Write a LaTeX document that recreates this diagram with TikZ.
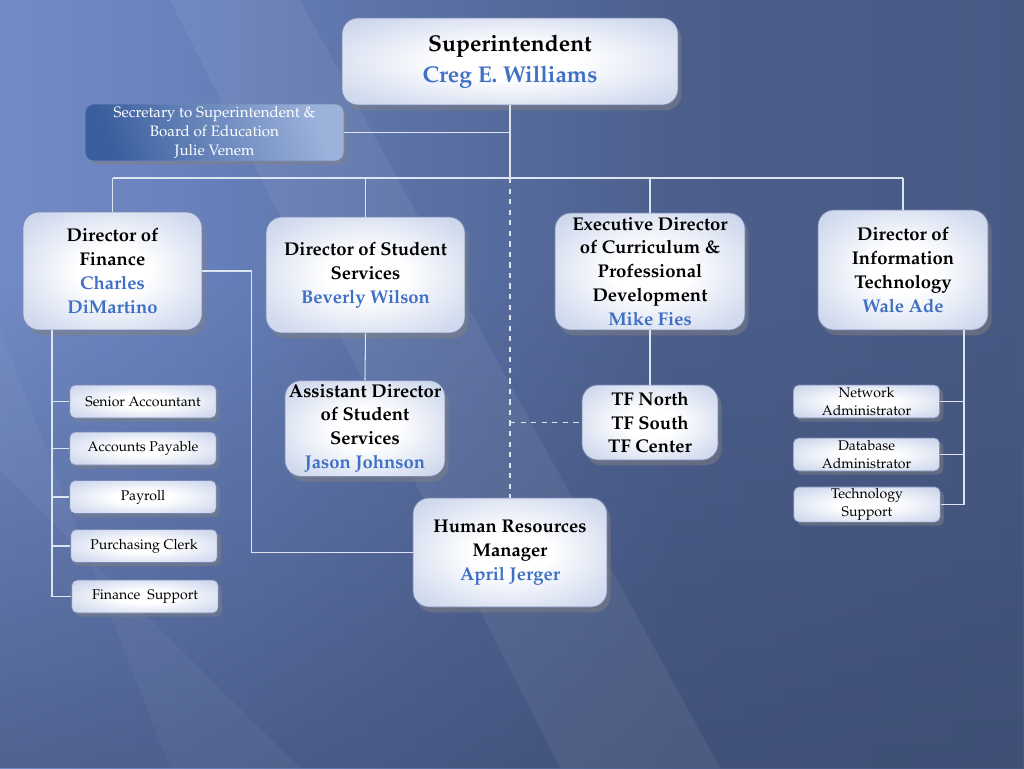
\documentclass[tikz,border=0pt]{standalone}
\usepackage[T1]{fontenc}
\usepackage{mathpazo}
\usetikzlibrary{shadows,fadings}

\definecolor{bgl}{HTML}{8CA5DE}
\definecolor{bgm}{HTML}{6A83BE}
\definecolor{bgd}{HTML}{4C5F8C}
\definecolor{bgr}{HTML}{415278}
\definecolor{bgdark}{HTML}{39486D}
\definecolor{boxmid}{HTML}{D6DEF0}
\definecolor{boxedge}{HTML}{ADBADA}
\definecolor{boxrim}{HTML}{9DACD2}
\definecolor{boxline}{HTML}{7787B6}
\definecolor{namecol}{HTML}{3F70C3}
\definecolor{linecol}{HTML}{DCE3F1}
\definecolor{secl}{HTML}{3A5F9E}
\definecolor{secr}{HTML}{9DB2DB}

\pgfdeclarehorizontalshading{bgshade}{100bp}{color(0bp)=(bgl); color(33bp)=(bgm);
  color(58bp)=(bgd); color(100bp)=(bgr)}
\pgfdeclareradialshading{boxglow}{\pgfpoint{0bp}{0bp}}{color(0bp)=(white); color(10bp)=(white);
  color(28bp)=(boxmid); color(50bp)=(boxedge); color(75bp)=(boxrim)}

\tikzset{
  boss/.style={draw=boxline, rounded corners=9pt, shading=boxglow,
    drop shadow={opacity=0.5, shadow xshift=2pt, shadow yshift=-3pt},
    align=center, inner sep=2pt, font=\fontsize{10.5}{13.6}\selectfont\bfseries},
  staff/.style={draw=boxline, rounded corners=3pt, shading=boxglow,
    drop shadow={opacity=0.5, shadow xshift=2pt, shadow yshift=-2pt},
    align=center, inner sep=1pt, minimum width=2.93cm, minimum height=0.66cm,
    font=\fontsize{8}{10}\selectfont},
  link/.style={draw=linecol, line width=0.6pt},
}
\newcommand{\who}[1]{\textcolor{namecol}{#1}}

\begin{document}
\begin{tikzpicture}[x=0.02cm,y=-0.02cm]
        % Background
        \shade[shading=bgshade] (0,0) rectangle (1024,768);
        \fill[bgdark, path fading=north, fill opacity=0.6] (0,280) rectangle (1024,768);
        \fill[white,opacity=0.06] (170,0) -- (300,0) -- (720,768) -- (560,768) -- cycle;
        \fill[white,opacity=0.04] (0,330) -- (0,470) -- (300,768) -- (170,768) -- cycle;
        \useasboundingbox (0,0) rectangle (1024,768);

        % Top
        \node[boss, minimum width=6.72cm, minimum height=1.74cm, font=\fontsize{13}{17.6}\selectfont\bfseries]
            (sup) at (510,61.5) {Superintendent\\ \who{Creg E. Williams}};
        \node[draw=boxline, rounded corners=5pt, left color=secl, right color=secr, shading angle=110,
            drop shadow={opacity=0.5, shadow xshift=2pt, shadow yshift=-2pt},
            minimum width=5.18cm, minimum height=1.14cm, align=center, inner sep=1pt,
            text=white, font=\fontsize{8.6}{10.8}\selectfont]
            (sec) at (214.5,132.5) {Secretary to Superintendent \&\\ Board of Education\\ Julie Venem};

        % Directors
        \node[boss, minimum width=3.58cm, minimum height=2.36cm] (fin) at (112.5,271)
            {Director of\\ Finance\\ \who{Charles}\\ \who{DiMartino}};
        \node[boss, minimum width=3.98cm, minimum height=2.32cm] (stu) at (365.5,275)
            {Director of Student\\ Services\\ \who{Beverly Wilson}};
        \node[boss, minimum width=3.80cm, minimum height=2.34cm] (exe) at (650,271.5)
            {Executive Director\\ of Curriculum \&\\ Professional\\ Development\\ \who{Mike Fies}};
        \node[boss, minimum width=3.40cm, minimum height=2.40cm] (it) at (903,270)
            {Director of\\ Information\\ Technology\\ \who{Wale Ade}};

        % Second row
        \node[boss, minimum width=3.20cm, minimum height=1.82cm] (asst) at (365,428.5)
            {Assistant Director\\ of Student\\ Services\\ \who{Jason Johnson}};
        \node[boss, minimum width=2.72cm, minimum height=1.50cm] (tf) at (650,422.5)
            {TF North\\ TF South\\ TF Center};
        \node[boss, minimum width=3.88cm, minimum height=2.18cm] (hr) at (510,552.5)
            {Human Resources\\ Manager\\ \who{April Jerger}};

        % Finance staff
        \node[staff] (sa) at (143,401.5) {Senior Accountant};
        \node[staff] (ap) at (143,448.5) {Accounts Payable};
        \node[staff] (pay) at (143,497) {Payroll};
        \node[staff] (pc) at (144,546) {Purchasing Clerk};
        \node[staff] (fs) at (145,596.5) {Finance\ \ Support};

        % IT staff
        \node[staff] (net) at (866.5,401.5) {Network\\ Administrator};
        \node[staff] (db) at (866.5,454.5) {Database\\ Administrator};
        \node[staff] (ts) at (867,504.5) {Technology\\ Support};

        % Connectors
        \coordinate (bus) at (510,178);
        \coordinate (fintrunk) at (52,330);
        \coordinate (ittrunk) at (964,330);
        \draw[link] (sup.south) -- (bus);
        \draw[link] (sec.east) -- (sec.east -| sup.south);
        \draw[link] (fin.north |- bus) -- (it.north |- bus);
        \foreach \n in {fin,stu,exe,it}
            \draw[link] (\n.north |- bus) -- (\n.north);
        \draw[link] (stu.south) -- (asst.north);
        \draw[link] (exe.south) -- (tf.north);
        \draw[link] (fin.east) -- ++(49,0) |- (hr.west);
        \draw[link, dashed] (bus) -- (hr.north);
        \draw[link, dashed] (bus |- tf.west) -- (tf.west);
        \draw[link] (fintrunk) |- (fs.west);
        \foreach \n in {sa,ap,pay,pc}
            \draw[link] (fintrunk |- \n.west) -- (\n.west);
        \draw[link] (ittrunk) |- (ts.east);
        \foreach \n in {net,db}
            \draw[link] (ittrunk |- \n.east) -- (\n.east);
\end{tikzpicture}
\end{document}
